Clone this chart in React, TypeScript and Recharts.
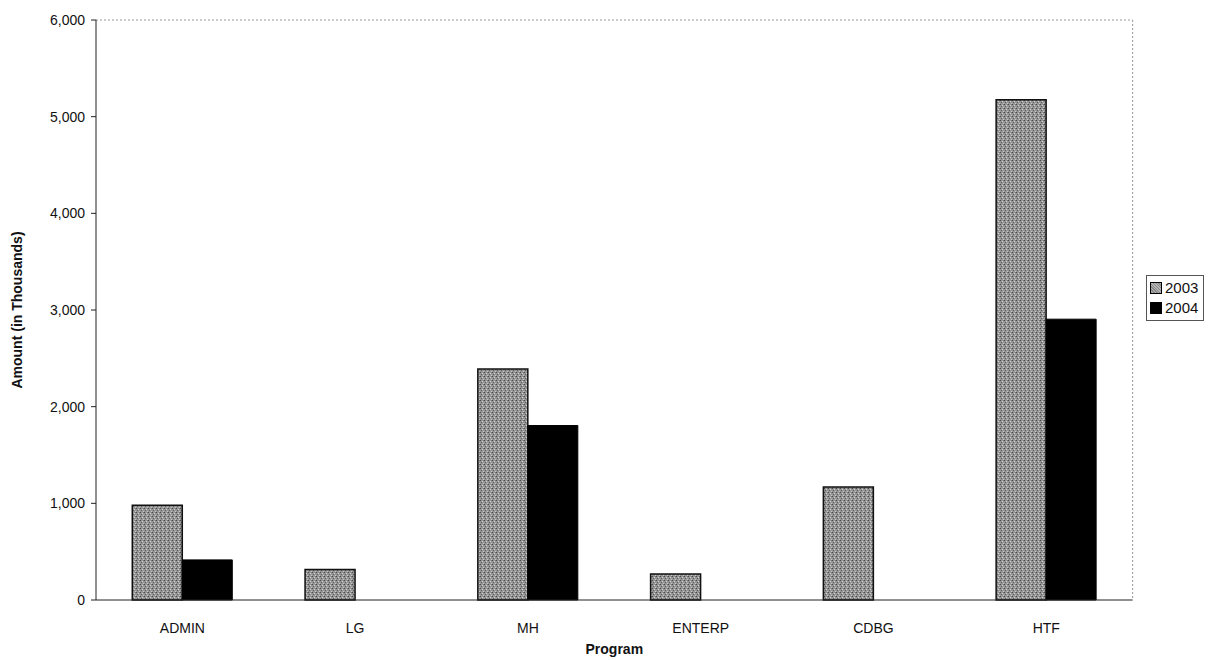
import { BarChart, Bar, XAxis, YAxis, CartesianGrid, Legend, ReferenceLine } from 'recharts'

// program funding, in thousands
const programs = ['ADMIN', 'LG', 'MH', 'ENTERP', 'CDBG', 'HTF']
const amounts2003 = [980, 315, 2390, 270, 1170, 5175]
const amounts2004 = [415, 0, 1805, 0, 0, 2905]
const yTicks = [0, 1000, 2000, 3000, 4000, 5000, 6000]
const gridValues = [1000, 2000, 3000, 4000, 5000]

const data = programs.map((p, i) => ({
  program: p,
  y2003: amounts2003[i],
  y2004: amounts2004[i],
}))

const font = '"Liberation Sans", Arial, sans-serif'

function LegendBox() {
  const items = [
    { label: '2003', color: 'repeating-linear-gradient(45deg, #888 0 1px, #b5b5b5 1px 2px)' },
    { label: '2004', color: '#000' },
  ]
  return (
    <div style={{ border: '1px solid #555', padding: '2px 5px 2px 3px', background: '#fff', fontFamily: font, fontSize: 15, color: '#111' }}>
      {items.map((it) => (
        <div key={it.label} style={{ display: 'flex', alignItems: 'center', gap: 3, lineHeight: '20px' }}>
          <span style={{ width: 10, height: 10, background: it.color, border: '1px solid #000', display: 'inline-block' }} />
          {it.label}
        </div>
      ))}
    </div>
  )
}

export default function App() {
  return (
    <div style={{ position: 'absolute', left: 0, top: 0, width: 1217, height: 660, background: '#fff' }}>
      <BarChart
        width={1217}
        height={660}
        data={data}
        margin={{ top: 20, right: 26, bottom: 6, left: 0 }}
        barCategoryGap="21%"
        barGap={0}
      >
        <defs>
          <pattern id="grain" width="4" height="4" patternUnits="userSpaceOnUse">
            <rect width="4" height="4" fill="#959595" />
            <rect x="0" y="0" width="1" height="1" fill="#4a4a4a" />
            <rect x="2" y="1" width="1" height="1" fill="#d4d4d4" />
            <rect x="1" y="2" width="1" height="1" fill="#5e5e5e" />
            <rect x="3" y="3" width="1" height="1" fill="#c8c8c8" />
            <rect x="3" y="0" width="1" height="1" fill="#777" />
          </pattern>
        </defs>
        {/* plot-area right border, light dotted */}
        <CartesianGrid
          horizontal={false}
          vertical
          verticalCoordinatesGenerator={({ offset }: any) => [offset.left + offset.width]}
          stroke="#999"
          strokeDasharray="2 2"
        />
        <CartesianGrid horizontal vertical={false} horizontalValues={gridValues} stroke="#2a2a2a" strokeWidth={1} />
        <ReferenceLine yAxisId="left" y={6000} stroke="#999" strokeDasharray="2 2" />
        <XAxis
          dataKey="program"
          tickLine={false}
          axisLine={{ stroke: '#222' }}
          tick={{ fontFamily: font, fontSize: 14, fill: '#111' }}
          tickMargin={17}
          height={54}
          label={{ value: 'Program', position: 'insideBottom', offset: 0, style: { fontFamily: font, fontSize: 14, fontWeight: 'bold', fill: '#111' } }}
        />
        <YAxis
          yAxisId="left"
          domain={[0, 6000]}
          ticks={yTicks}
          interval={0}
          width={96}
          axisLine={{ stroke: '#222' }}
          tickLine={{ stroke: '#222' }}
          tickSize={5}
          tickMargin={6}
          tick={{ fontFamily: font, fontSize: 14, fill: '#111' }}
          tickFormatter={(v: number) => v.toLocaleString('en-US')}
          label={{ value: 'Amount (in Thousands)', angle: -90, position: 'insideLeft', offset: 17, style: { textAnchor: 'middle', fontFamily: font, fontSize: 14, fontWeight: 'bold', fill: '#111' } }}
        />
        <Legend
          layout="vertical"
          align="right"
          verticalAlign="middle"
          content={() => <LegendBox />}
          wrapperStyle={{ position: 'absolute', left: 1146, top: 275, width: 'auto' }}
        />
        <Bar yAxisId="left" dataKey="y2003" name="2003" fill="url(#grain)" stroke="#111" strokeWidth={1.5} isAnimationActive={false} />
        <Bar yAxisId="left" dataKey="y2004" name="2004" fill="#000" stroke="#000" strokeWidth={1} isAnimationActive={false} />
      </BarChart>
    </div>
  )
}
